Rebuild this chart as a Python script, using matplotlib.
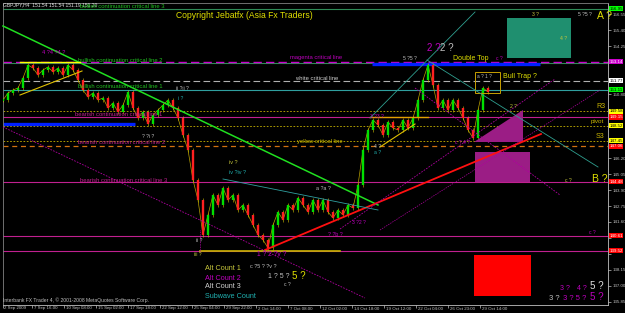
import numpy as np
import matplotlib.pyplot as plt
from matplotlib.patches import Rectangle, Polygon

# --- DATA ---------------------------------------------------------------------
# GBPJPY H4 closes, one reading every 5 chart pixels
closes = [
    150.37, 150.88, 151.09, 151.24, 151.96, 152.89, 152.67, 152.17, 152.53, 152.75,
    152.39, 152.67, 152.17, 152.89, 152.53, 151.81, 151.09, 150.59, 150.88, 150.37,
    150.52, 149.80, 150.16, 149.51, 150.01, 150.95, 149.80, 149.08, 149.51, 148.65,
    149.30, 149.65, 150.01, 150.37, 149.80, 149.08, 147.86, 146.78, 144.62, 143.18,
    140.67, 142.11, 143.54, 142.82, 144.05, 143.18, 143.54, 142.46, 142.82, 142.11,
    141.39, 140.67, 140.31, 139.74, 141.39, 142.32, 141.75, 142.82, 142.46, 143.33,
    142.82, 142.32, 143.18, 142.46, 143.18, 142.32, 141.89, 142.46, 142.11, 142.82,
    142.61, 144.26, 146.78, 148.22, 148.94, 148.58, 147.86, 148.79, 148.36, 148.22,
    148.94, 148.36, 149.08, 150.37, 151.81, 152.89, 151.45, 149.80, 150.37, 149.65,
    150.37, 149.80, 149.08, 148.22, 147.64, 149.65, 151.24, 150.95,
]
first_x = 3
step_x = 5

date_labels = ["2 Sep 2009", "7 Sep 16:00", "10 Sep 08:00", "15 Sep 02:00",
               "17 Sep 18:00", "22 Sep 12:00", "25 Sep 04:00", "29 Sep 22:00",
               "2 Oct 14:00", "7 Oct 08:00", "12 Oct 02:00", "14 Oct 18:00",
               "19 Oct 12:00", "22 Oct 04:00", "26 Oct 23:00", "29 Oct 14:00"]
date_pos = [3, 32, 64, 96, 128, 160, 192, 224, 256, 288, 320, 352, 384, 416, 448, 480]

price_ticks = [135.85, 137.00, 138.15, 139.30, 140.45, 141.60, 142.75, 143.90,
               145.05, 146.20, 147.35, 148.50, 149.65, 150.80, 151.95, 153.10,
               154.25, 155.40, 156.55]

# horizontal levels: price, colour, style, width
levels = [
    (156.95, "#2e8b57", "-", 0.8),
    (153.03, "#2e8b57", "-", 0.8),
    (153.14, "#cc00cc", (0, (6, 3)), 1.0),
    (151.77, "#b0b0b0", (0, (6, 3)), 0.8),
    (151.11, "#2f9f9f", "-", 0.8),
    (149.58, "#c8b400", (0, (2, 2)), 0.6),
    (149.15, "#c0208f", "-", 0.8),
    (148.52, "#c8b400", (0, (2, 2)), 0.6),
    (147.45, "#c8b400", (0, (2, 2)), 0.6),
    (147.06, "#d07010", (0, (4, 3)), 0.9),
    (144.48, "#c0208f", "-", 0.8),
    (140.61, "#c0208f", "-", 0.8),
    (139.52, "#c0208f", "-", 0.8),
]

# price boxes on the right scale: price, label, face, text colour
price_boxes = [
    (156.95, "156.95", "#00ff00", "black"),
    (153.14, "153.14", "#cc00cc", "white"),
    (151.77, "151.77", "white", "black"),
    (151.11, "151.11", "#00ff00", "black"),
    (149.58, "149.58", "#ffff00", "black"),
    (149.15, "149.15", "#ff0000", "white"),
    (148.52, "148.52", "#ffff00", "black"),
    (147.45, "147.45", "#ffff00", "black"),
    (147.06, "147.06", "#ff0000", "white"),
    (144.48, "144.48", "#ff0000", "white"),
    (140.61, "140.61", "#ff0000", "white"),
    (139.52, "139.52", "#ff0000", "white"),
]

# --- FIGURE -------------------------------------------------------------------
plt.rcParams["font.family"] = ["Liberation Sans", "DejaVu Sans"]
W, H = 625, 313
fig = plt.figure(figsize=(W / 100, H / 100), dpi=100, facecolor="black")

ax = fig.add_axes([3 / W, 8 / H, 605 / W, 302 / H], facecolor="black")
ax.set_xlim(3, 608)
ax.set_ylim(135.63, 157.35)

# level lines
for price, col, ls, lw in levels:
    ax.axhline(price, color=col, linestyle=ls, linewidth=lw, zorder=1)

# partial thick blue lines
ax.hlines(148.65, 3, 135, color="#0020ff", linewidth=2.4, zorder=2)
ax.hlines(152.96, 372, 540, color="#0020ff", linewidth=2.4, zorder=2)

# candles
xs = first_x + step_x * np.arange(len(closes))
opens = [closes[0]] + closes[:-1]
ax.plot(xs, closes, color="#b8a000", linewidth=0.5, zorder=3)
for x, o, c in zip(xs, opens, closes):
    col = "#00e000" if c >= o else "#ff2020"
    lo, hi = min(o, c), max(o, c)
    if hi - lo < 0.06:
        hi += 0.04
        lo -= 0.04
    ax.vlines(x, lo - 0.12, hi + 0.12, color="#d0c000", linewidth=0.4, zorder=3)
    ax.vlines(x, lo, hi, color=col, linewidth=1.7, zorder=4)

# axes styling
for s in ["left", "top"]:
    ax.spines[s].set_color("#808080")
    ax.spines[s].set_linewidth(0.6)
ax.spines["right"].set_color("#c0c0c0")
ax.spines["bottom"].set_color("#c0c0c0")
ax.spines["right"].set_linewidth(0.6)
ax.spines["bottom"].set_linewidth(0.6)

# tick labels hidden where a price box sits on top of them
box_prices = [b[0] for b in price_boxes]
tick_text = []
for p in price_ticks:
    covered = any(abs(p - bp) < 0.25 for bp in box_prices)
    tick_text.append("" if covered else f"{p:.2f}")

ax.yaxis.tick_right()
ax.set_yticks(price_ticks)
ax.set_yticklabels(tick_text)
ax.tick_params(axis="y", colors="#c0c0c0", labelsize=3.2, length=2, width=0.5, pad=1)
ax.set_xticks(date_pos)
ax.set_xticklabels([])
ax.tick_params(axis="x", colors="#c0c0c0", length=2, width=0.5)

for price, lab, face, tc in price_boxes:
    ax.text(1.002, price, lab, transform=ax.get_yaxis_transform(), fontsize=3.2, color=tc,
            ha="left", va="center", clip_on=False, zorder=10,
            bbox=dict(boxstyle="square,pad=0.12", facecolor=face, edgecolor="none"))

# --- OVERLAY (drawn objects, screen pixels) -----------------------------------
ov = fig.add_axes([0, 0, 1, 1], facecolor="none")
ov.set_xlim(0, W)
ov.set_ylim(H, 0)
ov.axis("off")

for x, lab in zip(date_pos, date_labels):
    ov.text(x + 1.5, 308.5, lab, color="#c0c0c0", fontsize=3.2, ha="left", va="center")

ov.add_patch(Rectangle((507, 18), 64, 40, facecolor="#1f8f6f", edgecolor="none"))
ov.add_patch(Rectangle((475, 152), 55, 30, facecolor="#9b1d85", edgecolor="none"))
ov.add_patch(Polygon([(474, 142), (523, 110), (523, 142)], facecolor="#9b1d85", edgecolor="none"))
ov.add_patch(Rectangle((474, 255), 57, 41, facecolor="#ff0000", edgecolor="none"))
ov.add_patch(Rectangle((475, 72), 25, 21, facecolor="none", edgecolor="#c8a000", linewidth=0.7))

trend = [
    ((3, 26), (378, 205), "#20e020", 1.1, "-"),
    ((265, 250), (541, 134), "#ff1010", 1.3, "-"),
    ((20, 62), (80, 62), "#ffff00", 1.0, "-"),
    ((20, 95), (82, 71), "#e0c000", 0.8, "-"),
    ((370, 117), (428, 117), "#e0a000", 1.0, "-"),
    ((380, 147), (415, 124), "#e0c000", 0.8, "-"),
    ((200, 251), (340, 251), "#c8b400", 1.2, "-"),
    ((370, 118), (475, 12), "#2f9f8f", 0.6, "-"),
    ((427, 60), (598, 167), "#2f9f8f", 0.6, "-"),
    ((223, 179), (378, 210), "#2f9f9f", 0.6, "-"),
    ((3, 127), (365, 298), "#b000a0", 0.6, (0, (2, 1.5))),
    ((340, 229), (555, 79), "#b000a0", 0.6, (0, (2, 1.5))),
    ((415, 88), (560, 195), "#b000a0", 0.6, (0, (2, 1.5))),
    ((380, 230), (600, 90), "#b000a0", 0.5, (0, (2, 1.5))),
    ((200, 230), (200, 252), "#b000a0", 0.6, (0, (1, 1))),
]
for p0, p1, col, lw, ls in trend:
    ov.plot([p0[0], p1[0]], [p0[1], p1[1]], color=col, linewidth=lw, linestyle=ls)

texts = [
    (3, 5, "GBPJPY,H4  151.54 151.54 151.19 151.20", "#e0e0e0", 3.6),
    (80, 6, "bullish continuation critical line 3", "#20c020", 4.2),
    (176, 16, "Copyright Jebatfx (Asia Fx Traders)", "#e0e000", 6.2),
    (78, 60, "bullish continuation critical line 2", "#20c020", 4.2),
    (290, 58, "magenta critical line", "#c000c0", 4.2),
    (295, 79, "white critical line", "#d0d0d0", 4.2),
    (78, 87, "bullish continuation critical line 1", "#20c020", 4.2),
    (75, 114, "bearish continuation critical line 1", "#c0208f", 4.2),
    (78, 142, "bearish continuation critical line 2", "#c0208f", 4.2),
    (80, 180, "bearish continuation critical line 3", "#c0208f", 4.2),
    (297, 142, "yellow critical line", "#d0c000", 4.2),
    (453, 58, "Double Top", "#e0e000", 5),
    (503, 76, "Bull Trap ?", "#e0e000", 5),
    (596, 107, "R3", "#c8b400", 5),
    (591, 122, "pivot", "#c8b400", 4.5),
    (596, 137, "S3", "#c8b400", 5),
    (42, 52, "4 ?4 ?4 ?", "#c000c0", 4),
    (176, 88, "ii ?ii ?", "#c0c0c0", 3.6),
    (178, 98, "i ?", "#20b0b0", 3.6),
    (142, 136, "? ?i ?", "#c0c0c0", 3.6),
    (229, 163, "iv ?", "#c8c83c", 4),
    (229, 172, "iv ?iv ?", "#20b0b0", 4),
    (196, 241, "ii ?", "#c0c0c0", 3.6),
    (194, 254, "iii ?", "#c8c83c", 3.6),
    (316, 189, "a ?a ?", "#c0c0c0", 3.8),
    (328, 234, "? ?b ?", "#c000c0", 3.8),
    (352, 223, "3 ?2 ?", "#c000c0", 3.6),
    (257, 255, "1 ? 2 ?v ?", "#c000c0", 4.8),
    (250, 266, "c ?5 ? ?v ?", "#c0c0c0", 4),
    (268, 276, "1 ? 5 ?", "#c0c0c0", 5),
    (292, 276, "5 ?", "#e0e000", 7),
    (284, 285, "c ?", "#c0c0c0", 3.6),
    (370, 117, "3 ?3 ?", "#c000c0", 3.6),
    (374, 146, "4 ?", "#c0c0c0", 3.6),
    (374, 153, "a ?", "#20b0b0", 3.6),
    (403, 58, "5 ?5 ?", "#c0c0c0", 3.6),
    (427, 48, "2 ?", "#c000c0", 7),
    (440, 48, "2 ?", "#c0c0c0", 7),
    (496, 59, "c ?", "#c000c0", 3.6),
    (477, 76, "a ? 1 ?", "#c0c0c0", 3.4),
    (510, 107, "2 ?", "#c8c83c", 3.6),
    (455, 142, "c ? 4 ?", "#c000c0", 3.6),
    (532, 14, "3 ?", "#c8c83c", 3.6),
    (560, 38, "4 ?", "#c8c83c", 3.6),
    (578, 15, "5 ?5 ?", "#c0c0c0", 3.6),
    (597, 16, "A ?", "#e0e000", 7.5),
    (565, 181, "c ?", "#c8c83c", 3.6),
    (592, 179, "B ?", "#e0e000", 7.5),
    (589, 232, "c ?", "#c000c0", 3.6),
    (560, 289, "3 ?", "#c000c0", 5),
    (577, 289, "4 ?", "#c000c0", 5),
    (590, 286, "5 ?", "#e0e0e0", 7),
    (549, 299, "3 ?", "#c0c0c0", 5.5),
    (563, 299, "3 ? 5 ?", "#c000c0", 5.5),
    (590, 297, "5 ?", "#c000c0", 7),
    (205, 268, "Alt Count 1", "#c8c83c", 5.2),
    (205, 278, "Alt Count 2", "#c000c0", 5.2),
    (205, 287, "Alt Count 3", "#d0d0d0", 5.2),
    (205, 297, "Subwave Count", "#20b0b0", 5.2),
    (3, 300, "Interbank FX Trader 4, \u00a9 2001-2008 MetaQuotes Software Corp.", "#c0c0c0", 3.6),
]
for x, y, t, col, fs in texts:
    ov.text(x, y, t, color=col, fontsize=fs, ha="left", va="center")

fig.savefig("out.png", dpi=100, facecolor="black")
